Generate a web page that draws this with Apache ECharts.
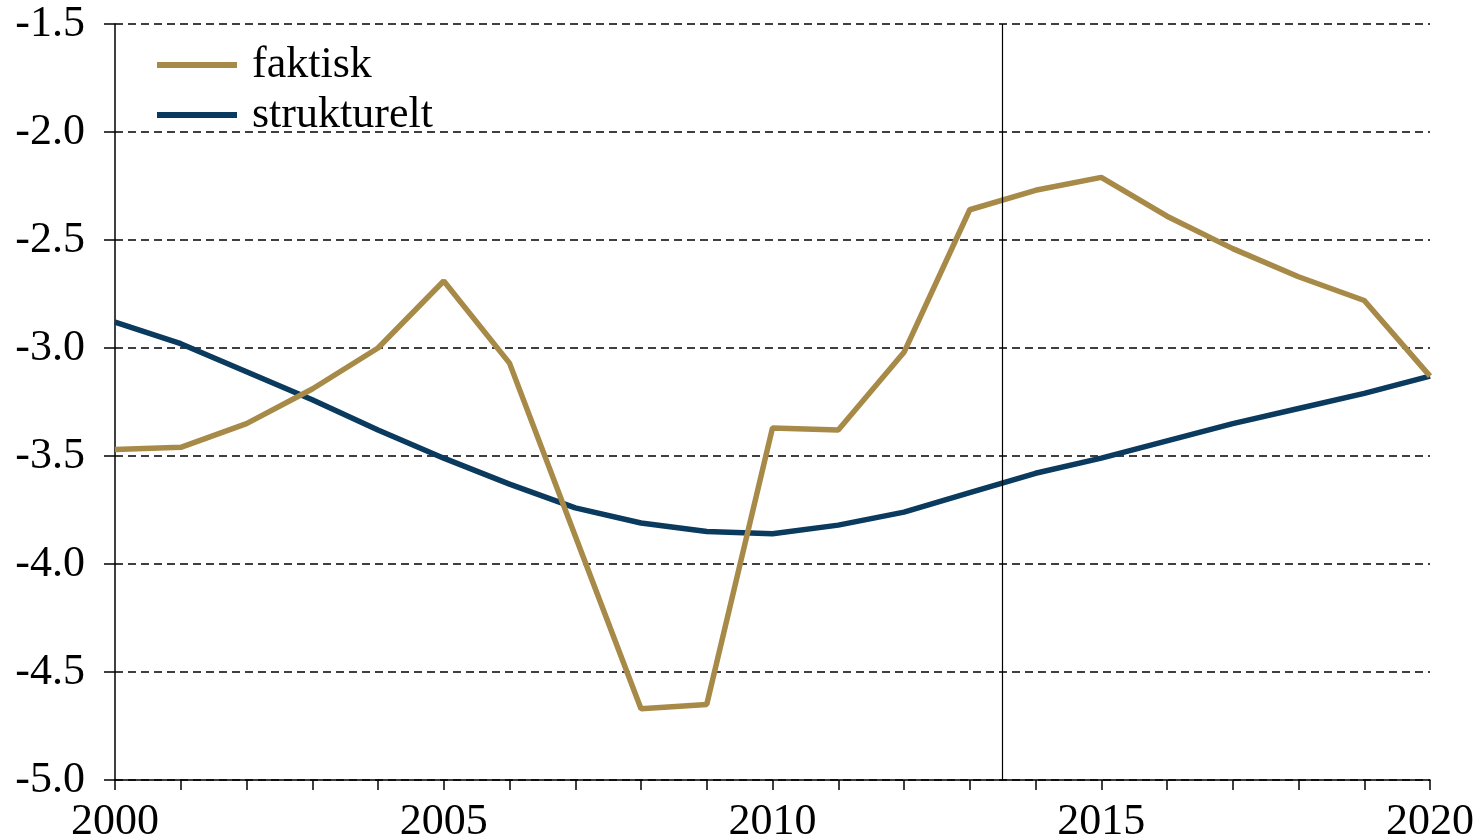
<!DOCTYPE html>
<html>
<head>
<meta charset="utf-8">
<script src="https://cdn.jsdelivr.net/npm/echarts@6/dist/echarts.min.js"></script>
<style>
  html, body { margin: 0; padding: 0; background: #fff; }
  #chart { width: 1478px; height: 839px; }
</style>
</head>
<body>
<div id="chart"></div>
<script>
// data
const years = [2000, 2001, 2002, 2003, 2004, 2005, 2006, 2007, 2008, 2009, 2010,
  2011, 2012, 2013, 2014, 2015, 2016, 2017, 2018, 2019, 2020]
const faktisk = [-3.47, -3.46, -3.35, -3.19, -3.00, -2.69, -3.07, -3.87, -4.67, -4.65, -3.37,
  -3.38, -3.02, -2.36, -2.27, -2.21, -2.39, -2.54, -2.67, -2.78, -3.13]
const strukturelt = [-2.88, -2.98, -3.11, -3.24, -3.38, -3.51, -3.63, -3.74, -3.81, -3.85, -3.86,
  -3.82, -3.76, -3.67, -3.58, -3.51, -3.43, -3.35, -3.28, -3.21, -3.13]
const seriesNames = ['faktisk', 'strukturelt']
const forecastStart = 2013.5

const font = '"Liberation Serif", "Times New Roman", serif'
const gold = '#A88A48'
const navy = '#0B3A5F'

const chart = echarts.init(document.getElementById('chart'))

chart.setOption({
  animation: false,
  grid: { left: 115, right: 48, top: 24, bottom: 59, outerBoundsMode: 'none', containLabel: false },
  legend: {
    data: seriesNames,
    orient: 'vertical',
    left: 157,
    top: 43,
    padding: 0,
    itemWidth: 80,
    itemHeight: 6,
    itemGap: 6,
    icon: 'rect',
    textStyle: { fontFamily: font, fontSize: 44, color: '#000', padding: [0, 0, 0, 10] }
  },
  xAxis: {
    type: 'value',
    min: 2000,
    max: 2020,
    interval: 1,
    axisLine: { show: true, onZero: false, lineStyle: { color: '#000', width: 1.5 } },
    axisTick: { show: true, inside: false, length: 10, lineStyle: { color: '#000', width: 1.5 } },
    axisLabel: {
      fontFamily: font,
      fontSize: 44,
      color: '#000',
      margin: 20,
      formatter: v => (v % 5 === 0 ? String(v) : '')
    },
    splitLine: { show: false }
  },
  yAxis: {
    type: 'value',
    min: -5,
    max: -1.5,
    interval: 0.5,
    axisLine: { show: true, onZero: false, lineStyle: { color: '#000', width: 1.5 } },
    axisTick: { show: true, inside: false, length: 11, lineStyle: { color: '#000', width: 1.5 } },
    axisLabel: {
      fontFamily: font,
      fontSize: 44,
      color: '#000',
      margin: 30,
      verticalAlign: 'middle',
      padding: [8, 0, 0, 0],
      formatter: v => v.toFixed(1)
    },
    splitLine: {
      lineStyle: { color: '#000', width: 1.6, type: [8, 5] }
    }
  },
  series: [
    {
      name: 'strukturelt',
      type: 'line',
      z: 2,
      data: years.map((y, i) => [y, strukturelt[i]]),
      showSymbol: false,
      lineStyle: { color: navy, width: 5.5 },
      itemStyle: { color: navy }
    },
    {
      name: 'faktisk',
      type: 'line',
      z: 3,
      data: years.map((y, i) => [y, faktisk[i]]),
      showSymbol: false,
      lineStyle: { color: gold, width: 5.5 },
      itemStyle: { color: gold },
      markLine: {
        silent: true,
        symbol: 'none',
        label: { show: false },
        lineStyle: { color: '#000', width: 1.2, type: 'solid' },
        data: [{ xAxis: forecastStart }]
      }
    }
  ]
})
</script>
</body>
</html>
